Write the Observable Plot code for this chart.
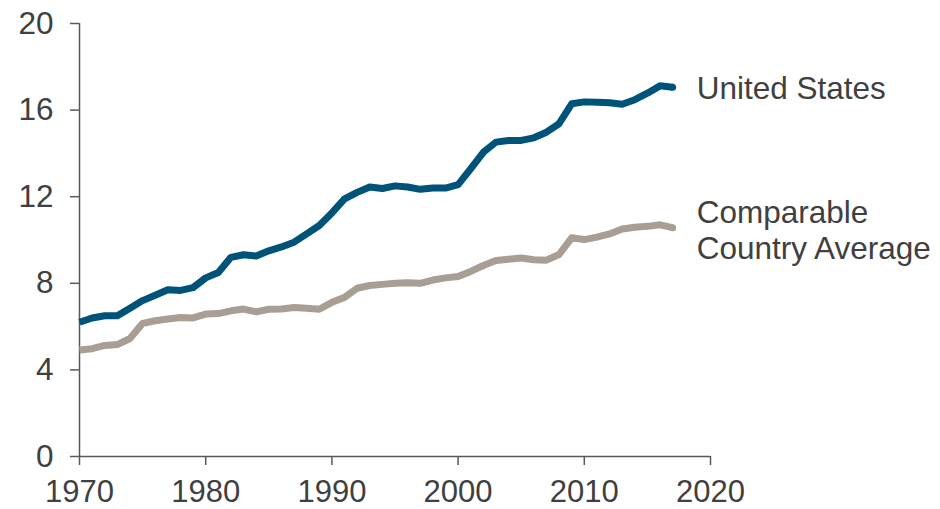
<!DOCTYPE html>
<html>
<head>
<meta charset="utf-8">
<script src="https://cdn.jsdelivr.net/npm/d3@7"></script>
<script src="https://cdn.jsdelivr.net/npm/@observablehq/plot@0.6"></script>
<style>
  html, body { margin: 0; padding: 0; background: #fff; }
  #chart svg { display: block; }
</style>
</head>
<body>
<div id="chart"></div>
<script>
const years = d3.range(1970, 2018);
const usValues = [
  6.2, 6.4, 6.5, 6.5, 6.85, 7.2, 7.45, 7.7, 7.67, 7.8,
  8.25, 8.5, 9.2, 9.32, 9.26, 9.5, 9.68, 9.9, 10.28, 10.67,
  11.25, 11.9, 12.2, 12.45, 12.38, 12.5, 12.45, 12.34, 12.4, 12.4,
  12.56, 13.29, 14.05, 14.52, 14.6, 14.6, 14.72, 14.98, 15.37, 16.29,
  16.38, 16.36, 16.34, 16.27, 16.48, 16.78, 17.12, 17.06
];
const comparableValues = [
  4.92, 4.98, 5.13, 5.17, 5.45, 6.15, 6.27, 6.35, 6.42, 6.4,
  6.58, 6.6, 6.73, 6.81, 6.68, 6.8, 6.81, 6.88, 6.85, 6.8,
  7.12, 7.35, 7.77, 7.9, 7.95, 8.0, 8.03, 8.0, 8.15, 8.25,
  8.31, 8.55, 8.82, 9.05, 9.11, 9.17, 9.09, 9.07, 9.33, 10.1,
  10.02, 10.13, 10.28, 10.51, 10.59, 10.63, 10.7, 10.57
];
const seriesNames = ["United States", "Comparable\nCountry Average"];
const seriesColors = ["#005378", "#a89e93"];
const yTicks = [0, 4, 8, 12, 16, 20];
const xTicks = [1970, 1980, 1990, 2000, 2010, 2020];

const usData = years.map((y, i) => ({year: y, value: usValues[i]}));
const compData = years.map((y, i) => ({year: y, value: comparableValues[i]}));
const lastUS = usData[usData.length - 1];
const lastComp = compData[compData.length - 1];

const axisColor = "#595959";
const textColor = "#404040";
const font = "'Liberation Sans', Arial, sans-serif";

const chart = Plot.plot({
  width: 940,
  height: 509,
  marginLeft: 79,
  marginRight: 230,
  marginTop: 23,
  marginBottom: 53,
  style: {fontFamily: font, background: "#fff", overflow: "visible"},
  x: {domain: [1970, 2020]},
  y: {domain: [0, 20]},
  marks: [
    Plot.ruleY([0], {x1: 1970, x2: 2020, stroke: axisColor, strokeWidth: 1.5}),
    Plot.ruleX([1970], {y1: 0, y2: 20, stroke: axisColor, strokeWidth: 1.5}),
    Plot.axisY({ticks: yTicks, tickSize: 9, tickPadding: 17, tickFormat: d => String(d),
      stroke: axisColor, strokeWidth: 1.5, strokeOpacity: 1, fill: textColor, fontSize: 31.5, label: null}),
    Plot.axisX({ticks: xTicks, tickSize: 9, tickPadding: 14, tickFormat: d => String(d),
      stroke: axisColor, strokeWidth: 1.5, strokeOpacity: 1, fill: textColor, fontSize: 31, label: null}),
    Plot.line(compData, {x: "year", y: "value", stroke: seriesColors[1], strokeWidth: 7,
      strokeLinejoin: "round", strokeLinecap: "butt"}),
    Plot.line(usData, {x: "year", y: "value", stroke: seriesColors[0], strokeWidth: 7,
      strokeLinejoin: "round", strokeLinecap: "butt"}),
    Plot.dot([lastComp], {x: "year", y: "value", r: 3.5, fill: seriesColors[1]}),
    Plot.dot([lastUS], {x: "year", y: "value", r: 3.5, fill: seriesColors[0]}),
    Plot.text([lastUS], {x: "year", y: "value", text: () => seriesNames[0], textAnchor: "start",
      dx: 24, dy: 2, fontSize: 31.5, fill: textColor, lineAnchor: "middle"}),
    Plot.text([lastComp], {x: "year", y: "value", text: () => seriesNames[1], textAnchor: "start",
      dx: 24, dy: 2, fontSize: 31.5, fill: textColor, lineAnchor: "middle", lineHeight: 1.15})
  ]
});
document.getElementById("chart").appendChild(chart);
</script>
</body>
</html>
